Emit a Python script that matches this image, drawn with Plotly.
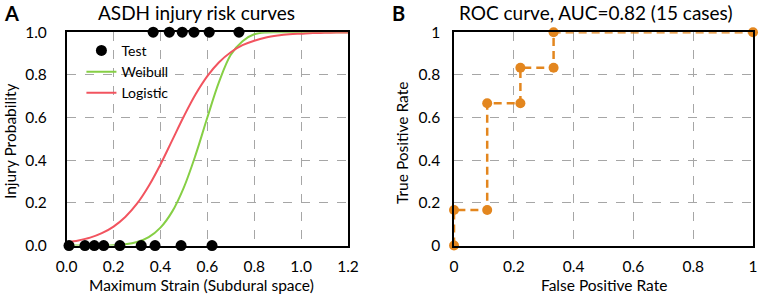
import plotly.graph_objects as go

# ---- Panel A data ----
test_strain = [0.01, 0.078, 0.118, 0.158, 0.227, 0.318, 0.377, 0.488, 0.62,
               0.369, 0.438, 0.493, 0.543, 0.608, 0.735]
test_injury = [0, 0, 0, 0, 0, 0, 0, 0, 0,
               1, 1, 1, 1, 1, 1]

curve_strain = [0.0, 0.05, 0.1, 0.15, 0.2, 0.25, 0.3, 0.35, 0.4, 0.45, 0.5, 0.55,
                0.6, 0.65, 0.7, 0.75, 0.8, 0.85, 0.9, 0.95, 1.0, 1.05, 1.1, 1.15, 1.2]
weibull_prob = [0.0, 0.0, 0.0, 0.0003, 0.0016, 0.0057, 0.0165, 0.0395, 0.084, 0.159,
                0.273, 0.425, 0.600, 0.767, 0.894, 0.958, 0.990, 0.999, 1.0, 1.0,
                1.0, 1.0, 1.0, 1.0, 1.0]
logistic_prob = [0.015, 0.024, 0.037, 0.058, 0.089, 0.134, 0.196, 0.279, 0.380, 0.493,
                 0.606, 0.709, 0.794, 0.859, 0.906, 0.939, 0.960, 0.975, 0.984, 0.990,
                 0.993, 0.996, 0.997, 0.998, 0.999]

# ---- Panel B data ----
roc_fpr = [0, 0, 0.111, 0.111, 0.222, 0.222, 0.333, 0.333, 1]
roc_tpr = [0, 0.167, 0.167, 0.667, 0.667, 0.833, 0.833, 1, 1]

a_ticks = [0.0, 0.2, 0.4, 0.6, 0.8, 1.0, 1.2]
b_ticks = [0, 0.2, 0.4, 0.6, 0.8, 1]

FONT = "Lato"
GREEN = "#86CF45"
RED = "#F2545F"
ORANGE = "#E3861E"
GRID = "#A6A6A6"
TICK = 15.5
LAB = 15.5

fig = go.Figure()

fig.add_trace(go.Scatter(x=curve_strain, y=weibull_prob, mode="lines", name="Weibull",
                         line=dict(color=GREEN, width=2, shape="spline"),
                         xaxis="x", yaxis="y", legendrank=2))
fig.add_trace(go.Scatter(x=curve_strain, y=logistic_prob, mode="lines", name="Logistic",
                         line=dict(color=RED, width=2, shape="spline"),
                         xaxis="x", yaxis="y", legendrank=3))
fig.add_trace(go.Scatter(x=test_strain, y=test_injury, mode="markers", name="Test",
                         marker=dict(color="black", size=11),
                         xaxis="x", yaxis="y", cliponaxis=False, legendrank=1))

fig.add_trace(go.Scatter(x=roc_fpr, y=roc_tpr, mode="lines+markers", showlegend=False,
                         line=dict(color=ORANGE, width=2.5, dash="8px,5px"),
                         marker=dict(color=ORANGE, size=10),
                         xaxis="x2", yaxis="y2", cliponaxis=False))

ydom = [0.176, 0.892]
common = dict(showline=True, linecolor="black", linewidth=1.5, mirror=True,
              showgrid=True, gridcolor=GRID, griddash="dash", gridwidth=1,
              zeroline=False, ticks="", automargin=False,
              tickfont=dict(size=TICK, color="black", family=FONT))

fig.update_layout(
    template="none",
    width=761, height=298,
    margin=dict(l=0, r=0, t=0, b=0, pad=0),
    paper_bgcolor="white", plot_bgcolor="white",
    font=dict(family=FONT, color="black"),
    xaxis=dict(domain=[0.0876, 0.4573], range=[0, 1.2], tickvals=a_ticks,
               tickformat=".1f", ticklabelstandoff=6, anchor="y", **common),
    yaxis=dict(domain=ydom, range=[0, 1], tickvals=[0, 0.2, 0.4, 0.6, 0.8, 1.0],
               tickformat=".1f", ticklabelstandoff=15, anchor="x", **common),
    xaxis2=dict(domain=[0.5966, 0.9895], range=[0, 1], tickvals=b_ticks,
                ticklabelstandoff=6, anchor="y2", **common),
    yaxis2=dict(domain=ydom, range=[0, 1], tickvals=b_ticks,
                ticklabelstandoff=9, anchor="x2", **common),
    legend=dict(x=0.107, y=0.883, xanchor="left", yanchor="top",
                bgcolor="rgba(0,0,0,0)", borderwidth=0,
                font=dict(size=14, family=FONT, color="black"),
                tracegroupgap=0, itemwidth=30),
    showlegend=True,
)

ann = [
    dict(text="<b>A</b>", x=12 / 761, y=1 - 13 / 298, size=20),
    dict(text="<b>B</b>", x=398 / 761, y=1 - 13 / 298, size=20),
    dict(text="ASDH injury risk curves", x=197 / 761, y=1 - 13 / 298, size=19),
    dict(text="ROC curve, AUC=0.82 (15 cases)", x=596 / 761, y=1 - 13 / 298, size=19),
    dict(text="Maximum Strain (Subdural space)", x=201 / 761, y=1 - 285 / 298, size=LAB),
    dict(text="False Positive Rate", x=604 / 761, y=1 - 285 / 298, size=LAB),
]
for a in ann:
    fig.add_annotation(text=a["text"], x=a["x"], y=a["y"], xref="paper", yref="paper",
                       xanchor="center", yanchor="middle", showarrow=False,
                       font=dict(size=a["size"], family=FONT, color="black"))
fig.add_annotation(text="Injury Probability", x=10 / 761, y=1 - 142 / 298, xref="paper",
                   yref="paper", textangle=-90, showarrow=False, xanchor="center",
                   yanchor="middle", font=dict(size=LAB, family=FONT, color="black"))
fig.add_annotation(text="True Positive Rate", x=402 / 761, y=1 - 143 / 298, xref="paper",
                   yref="paper", textangle=-90, showarrow=False, xanchor="center",
                   yanchor="middle", font=dict(size=LAB, family=FONT, color="black"))

fig.write_html("out.html", config={"displayModeBar": False},
               post_script="document.body.style.margin='0';document.body.style.overflow='hidden';")
